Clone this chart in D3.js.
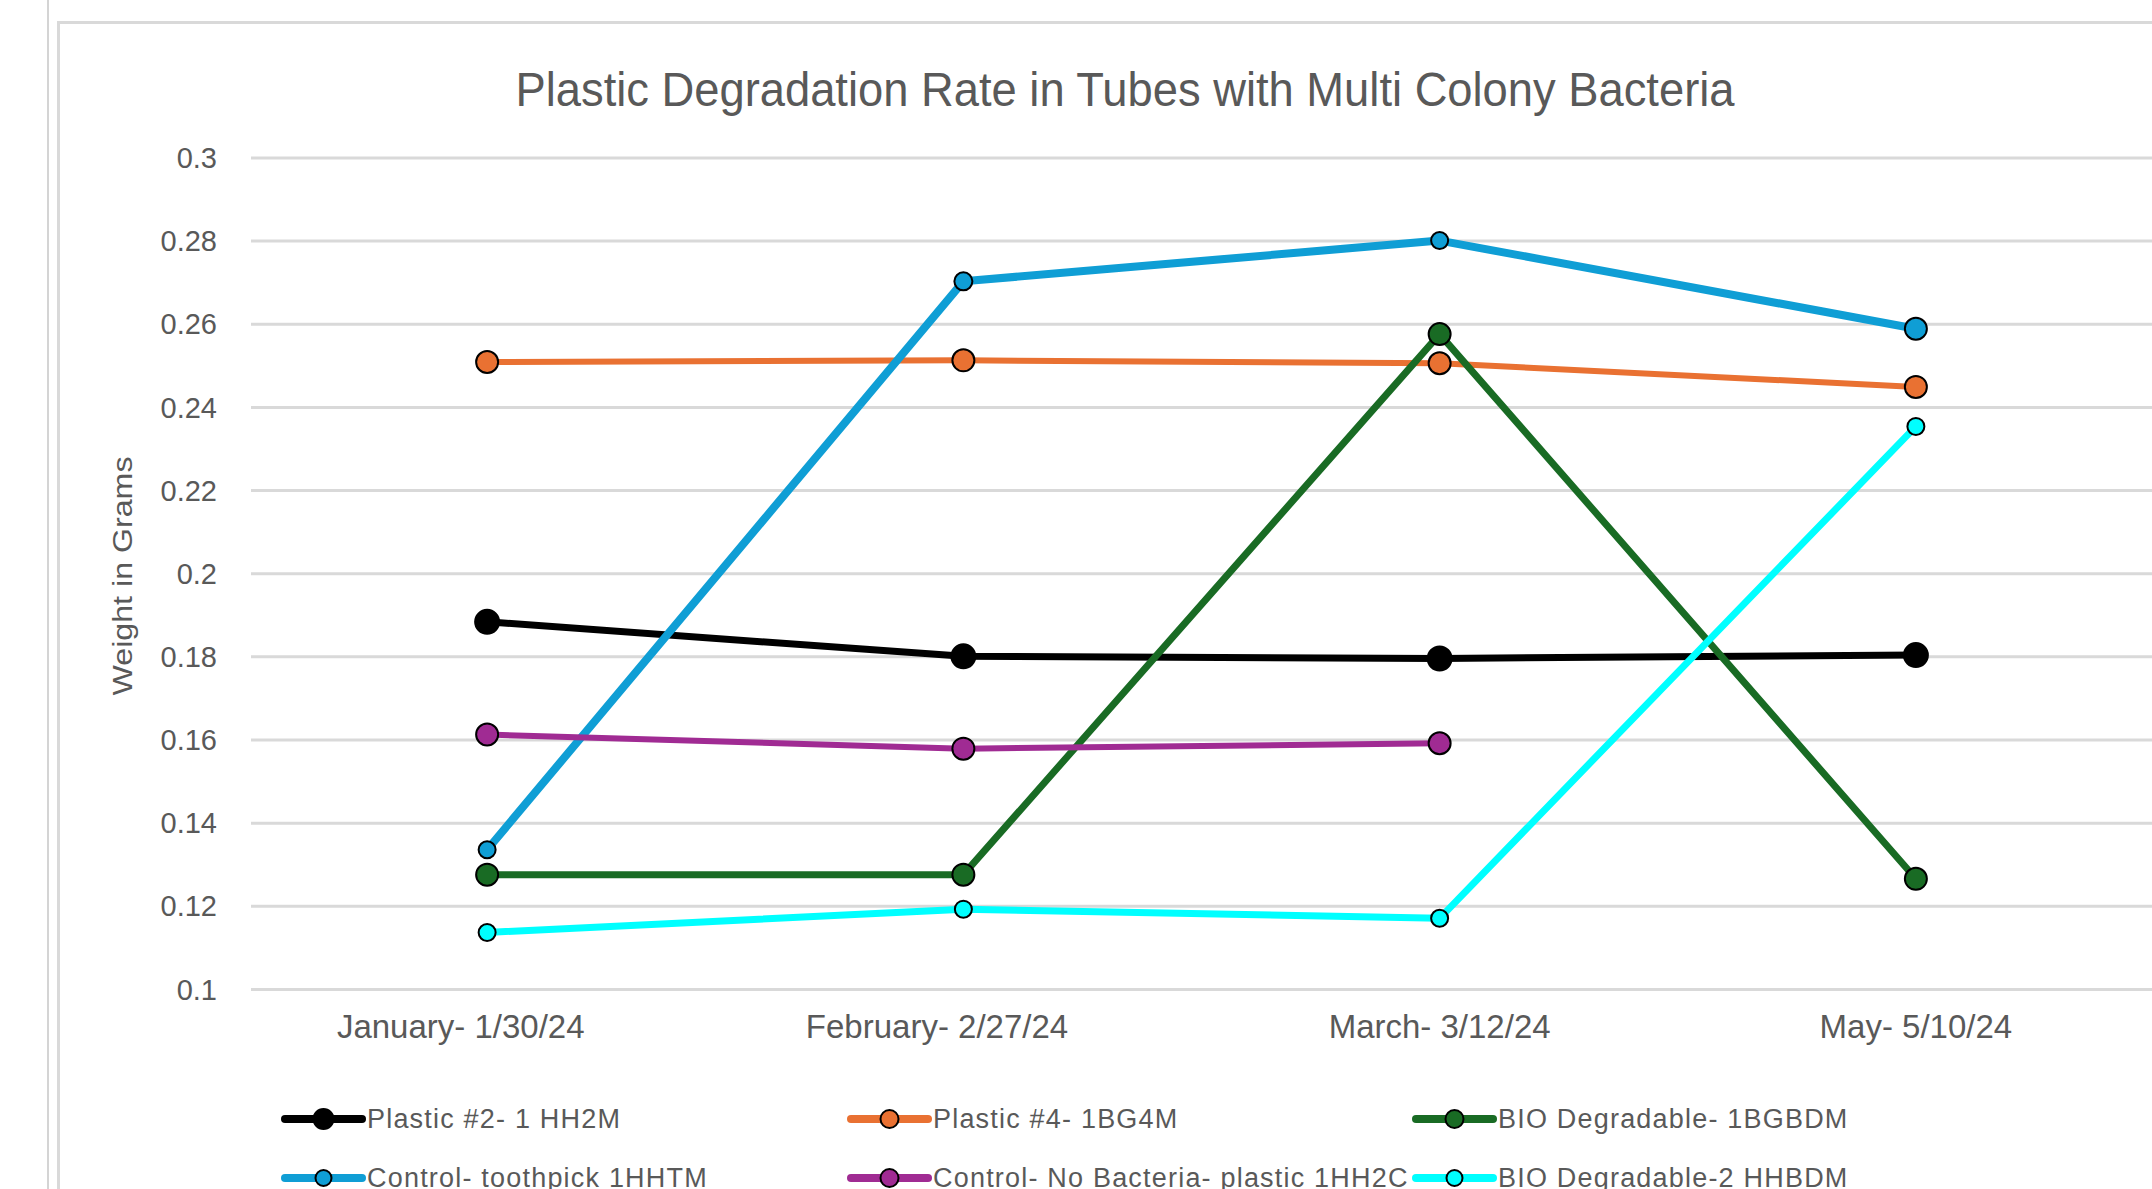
<!DOCTYPE html>
<html>
<head>
<meta charset="utf-8">
<script src="https://cdn.jsdelivr.net/npm/d3@7"></script>
<style>
  html, body { margin: 0; padding: 0; background: #fff; }
  svg { display: block; }
  text { font-family: "Liberation Sans", Arial, sans-serif; }
</style>
</head>
<body>
<script>
// ---- data ----
const categories = ["January- 1/30/24", "February- 2/27/24", "March- 3/12/24", "May- 5/10/24"];
const seriesNames = [
  "Plastic #2- 1 HH2M",
  "Plastic #4- 1BG4M",
  "BIO Degradable- 1BGBDM",
  "Control- toothpick 1HHTM",
  "Control- No Bacteria- plastic 1HH2C",
  "BIO Degradable-2 HHBDM"
];
const plastic2   = [0.1883, 0.1800, 0.1795, 0.1803];
const plastic4   = [0.2508, 0.2512, 0.2505, 0.2448];
const bio1       = [0.1275, 0.1275, 0.2575, 0.1265];
const toothpick  = [0.1335, 0.2702, 0.2800, 0.2588];
const noBacteria = [0.1612, 0.1578, 0.1591, null];
const bio2       = [0.1136, 0.1192, 0.1170, 0.2353];
const seriesValues = [plastic2, plastic4, bio1, toothpick, noBacteria, bio2];
const yTicks = [0.1, 0.12, 0.14, 0.16, 0.18, 0.2, 0.22, 0.24, 0.26, 0.28, 0.3];
const yTickLabels = ["0.1", "0.12", "0.14", "0.16", "0.18", "0.2", "0.22", "0.24", "0.26", "0.28", "0.3"];
const title = "Plastic Degradation Rate in Tubes with Multi Colony Bacteria";
const yTitle = "Weight in Grams";

// ---- styles ----
const colors = ["#000000", "#E97132", "#196B24", "#0F9ED5", "#A02B93", "#00FFFF"];
const lineWidths = [7, 6, 7, 8, 6, 7];
const markerR = [
  [12, 12, 12, 12],
  [11, 11, 11, 11],
  [11, 11, 11, 11],
  [8.5, 9, 8.5, 11],
  [11, 11, 11, 11],
  [8.5, 8.5, 8.5, 8.5]
];
const legendR = [10, 9, 9, 8, 9, 8];

const W = 2152, H = 1189;
const svg = d3.select("body").append("svg").attr("width", W).attr("height", H);

// frame
svg.append("line").attr("x1", 48).attr("x2", 48).attr("y1", 0).attr("y2", H)
  .attr("stroke", "#d4d4d4").attr("stroke-width", 2);
svg.append("path").attr("d", `M58.5,${H} V22.5 H${W}`)
  .attr("fill", "none").attr("stroke", "#d9d9d9").attr("stroke-width", 3);

const x = d3.scaleBand().domain(categories).range([249, 2154]);
const y = d3.scaleLinear().domain([0.1, 0.3]).range([989, 157.4]);
const cx = c => x(c) + x.bandwidth() / 2;

// gridlines
const yAxis = d3.axisLeft(y).tickValues(yTicks)
  .tickSize(-(2154 - 251)).tickPadding(34)
  .tickFormat((d, i) => yTickLabels[i]);
const gy = svg.append("g").attr("transform", "translate(251,0)").call(yAxis);
gy.select(".domain").remove();
gy.selectAll(".tick line").attr("stroke", "#d9d9d9").attr("stroke-width", 3);
gy.selectAll(".tick text").attr("fill", "#595959").attr("font-size", 29)
  .attr("font-family", "Liberation Sans, Arial, sans-serif").attr("dy", "0.35em");

// x axis labels
const xAxis = d3.axisBottom(x).tickSize(0).tickPadding(25);
const gx = svg.append("g").attr("transform", "translate(0,989)").call(xAxis);
gx.select(".domain").remove();
gx.selectAll(".tick text").attr("fill", "#595959").attr("font-size", 33)
  .attr("font-family", "Liberation Sans, Arial, sans-serif").attr("dy", "0.72em")
  .attr("dx", (d, i) => i < 2 ? "-0.8em" : "0");

// title
svg.append("text").attr("x", 1125).attr("y", 106).attr("text-anchor", "middle")
  .attr("font-size", 48).attr("fill", "#595959")
  .attr("textLength", 1219).attr("lengthAdjust", "spacingAndGlyphs")
  .text(title);

// y title
svg.append("text").attr("transform", "translate(132,576) rotate(-90)")
  .attr("text-anchor", "middle").attr("font-size", 27).attr("fill", "#595959")
  .attr("textLength", 239).attr("lengthAdjust", "spacingAndGlyphs")
  .text(yTitle);

// series
const line = d3.line().defined(d => d.v != null).x(d => cx(d.c)).y(d => y(d.v));
seriesValues.forEach((vals, si) => {
  const pts = vals.map((v, i) => ({ c: categories[i], v, r: markerR[si][i] }));
  const g = svg.append("g");
  g.append("path").datum(pts).attr("d", line).attr("fill", "none")
    .attr("stroke", colors[si]).attr("stroke-width", lineWidths[si])
    .attr("stroke-linejoin", "round");
  g.selectAll("circle").data(pts.filter(d => d.v != null)).join("circle")
    .attr("cx", d => cx(d.c)).attr("cy", d => y(d.v)).attr("r", d => d.r)
    .attr("fill", colors[si]).attr("stroke", "#000").attr("stroke-width", 2);
});

// legend
const legCols = [285, 851, 1416];
const legRows = [1119, 1178];
seriesNames.forEach((name, i) => {
  const lx = legCols[i % 3], ly = legRows[Math.floor(i / 3)];
  const g = svg.append("g");
  g.append("line").attr("x1", lx).attr("x2", lx + 77).attr("y1", ly).attr("y2", ly)
    .attr("stroke", colors[i]).attr("stroke-width", 8).attr("stroke-linecap", "round");
  g.append("circle").attr("cx", lx + 38.5).attr("cy", ly).attr("r", legendR[i])
    .attr("fill", colors[i]).attr("stroke", "#000").attr("stroke-width", 2);
  g.append("text").attr("x", lx + 82).attr("y", ly + 9).attr("font-size", 27)
    .attr("fill", "#595959").attr("letter-spacing", 1.2).text(name);
});
</script>
</body>
</html>
